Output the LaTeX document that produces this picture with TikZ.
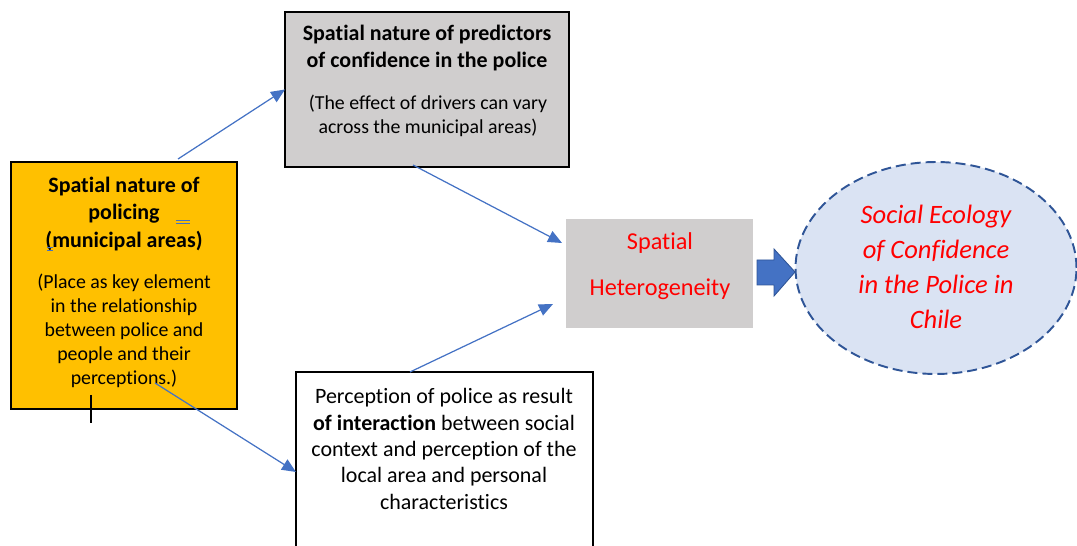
\documentclass[tikz,border=0pt]{standalone}
\usepackage{fontspec}
\setmainfont{Carlito}[Ligatures=NoCommon]
\usetikzlibrary{arrows.meta,shapes.geometric}
\definecolor{boxorange}{HTML}{FFC000}
\definecolor{boxgray}{HTML}{D0CECE}
\definecolor{linkblue}{HTML}{4472C4}
\definecolor{ovalfill}{HTML}{DAE3F3}
\definecolor{ovalline}{HTML}{2F5597}
\definecolor{hetred}{HTML}{FF0000}
\begin{document}
\begin{tikzpicture}[x=0.02cm,y=-0.02cm,
	box/.style={draw,line width=0.8pt,anchor=north west,inner sep=0pt,outer sep=0pt},
	link/.style={linkblue,line width=0.7pt,-{Triangle[length=0.28cm,width=0.24cm]}},
	title/.style={font=\fontsize{12.5}{15.9}\selectfont\bfseries,align=center,inner sep=0pt},
	body/.style={font=\fontsize{11.3}{13.6}\selectfont,align=center,inner sep=0pt}]
	\useasboundingbox (0,0) rectangle (1077,546);
	\clip (0,0) rectangle (1077,546);
	% boxes
	\node[box,fill=boxorange,minimum width=4.52cm,minimum height=4.94cm] (policing) at (11,162) {};
	\node[box,fill=boxgray,minimum width=5.68cm,minimum height=3.10cm] (predictors) at (285,12) {};
	\node[box,draw=none,fill=boxgray,minimum width=3.74cm,minimum height=2.18cm] (hetero) at (566,219) {};
	\node[box,fill=white,minimum width=5.94cm,minimum height=4cm] (interaction) at (296,372) {};
	\node[ellipse,draw=ovalline,dash pattern=on 0.2cm off 0.1cm,line width=1.1pt,fill=ovalfill,minimum width=5.62cm,minimum height=4.24cm,inner sep=0pt] (chile) at (936,268) {};
	% texts
	\node[title] (policingtitle) at (124,214) {Spatial nature of\\policing\\(municipal areas)};
	\node[body] (policingbody) at (124,331) {(Place as key element\\in the relationship\\between police and\\people and their\\perceptions.)};
	\node[title] (predtitle) at (427,48) {Spatial nature of predictors\\of confidence in the police};
	\node[body] (predbody) at (428,116) {(The effect of drivers can vary\\across the municipal areas)};
	\node[font=\fontsize{13.8}{26}\selectfont,text=hetred,align=center,inner sep=0pt] (heterotext) at (660,266) {Spatial\\Heterogeneity};
	\node[font=\fontsize{15.1}{19.8}\selectfont\itshape,text=hetred,align=center,inner sep=0pt] (chiletext) at (936,267) {Social Ecology\\of Confidence\\in the Police in\\Chile};
	\node[body,font=\fontsize{12.5}{15}\selectfont] (interactiontext) at (444,449) {Perception of police as result\\\textbf{of interaction} between social\\context and perception of the\\local area and personal\\characteristics};
	% arrows
	\coordinate (s1) at (178,159);
	\coordinate (s2) at (413,165);
	\coordinate (e2) at (562,243);
	\coordinate (s3) at (410,372);
	\coordinate (e3) at (553,304);
	\coordinate (s4) at (155,383);
	\draw[link] (s1) -- (predictors.west);
	\draw[link] (s2) -- (e2);
	\draw[link] (s3) -- (e3);
	\draw[link] (s4) -- (interaction.west);
	\filldraw[fill=linkblue,draw=ovalline,line width=0.5pt] (757,260) -- (774,260) -- (774,249) -- (795,272) -- (774,296) -- (774,285) -- (757,285) -- cycle;
	% stray marks
	\draw[linkblue,line width=0.4pt] (176,220) -- (190,220) (176,223) -- (190,223);
	\draw[linkblue,line width=0.4pt] (47,247) -- (53,247) (47,250) -- (53,250);
	\draw[line width=0.6pt] (91,395) -- (91,423);
\end{tikzpicture}
\end{document}
